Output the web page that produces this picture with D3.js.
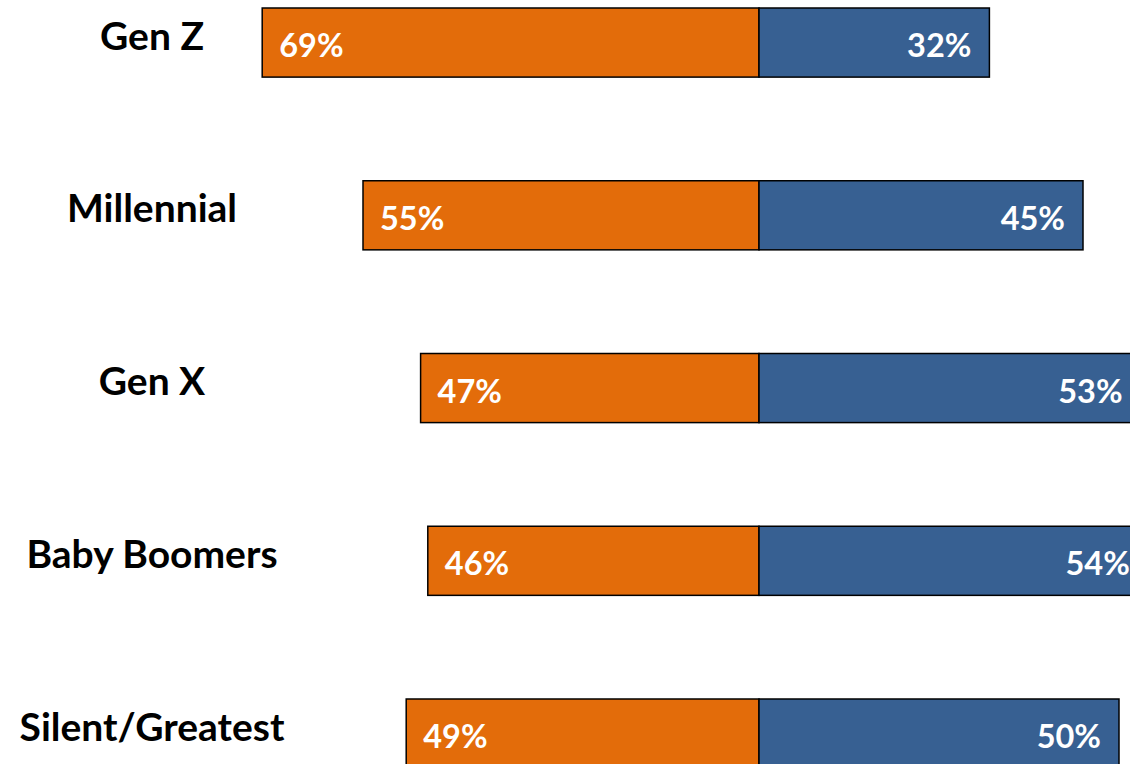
<!DOCTYPE html>
<html><head><meta charset="utf-8">
<script src="https://cdn.jsdelivr.net/npm/d3@7"></script>
<style>html,body{margin:0;padding:0;background:#fff;overflow:hidden}</style>
</head><body>
<svg id="chart" width="1130" height="764"></svg>
<script>
const categories = ["Gen Z", "Millennial", "Gen X", "Baby Boomers", "Silent/Greatest"];
const leftValues = [69, 55, 47, 46, 49];
const rightValues = [32, 45, 53, 54, 50];

const svg = d3.select("#chart");
const center = 759;
const len = d3.scaleLinear().domain([0, 100]).range([0, 720]);
const y = d3.scaleBand().domain(categories).range([8, 768.1]).paddingInner(0.6).paddingOuter(0);
const font = "Lato, 'Open Sans', sans-serif";

const rows = categories.map((c, i) => ({c, l: leftValues[i], r: rightValues[i]}));

svg.selectAll("rect.left").data(rows).join("rect")
  .attr("x", d => center - len(d.l)).attr("y", d => y(d.c))
  .attr("width", d => len(d.l)).attr("height", y.bandwidth())
  .attr("fill", "#E36C0A").attr("stroke", "#000").attr("stroke-width", 1.5);
svg.selectAll("rect.right").data(rows).join("rect")
  .attr("x", center).attr("y", d => y(d.c))
  .attr("width", d => len(d.r)).attr("height", y.bandwidth())
  .attr("fill", "#376092").attr("stroke", "#000").attr("stroke-width", 1.5);

svg.selectAll("text.cat").data(rows).join("text")
  .attr("x", 152).attr("y", d => y(d.c) + y.bandwidth()/2 - 8)
  .attr("text-anchor", "middle").attr("dominant-baseline", "central")
  .style("font-family", font).style("font-weight", "bold").style("font-size", "39px")
  .attr("fill", "#000").text(d => d.c);

svg.selectAll("text.lv").data(rows).join("text")
  .attr("x", d => center - len(d.l) + 17).attr("y", d => y(d.c) + y.bandwidth()/2 + 2)
  .attr("dominant-baseline", "central")
  .style("font-family", font).style("font-weight", "bold").style("font-size", "32.5px")
  .attr("fill", "#fff").text(d => d.l + "%");

svg.selectAll("text.rv").data(rows).join("text")
  .attr("x", d => center + len(d.r) - 18).attr("y", d => y(d.c) + y.bandwidth()/2 + 2)
  .attr("text-anchor", "end").attr("dominant-baseline", "central")
  .style("font-family", font).style("font-weight", "bold").style("font-size", "32.5px")
  .attr("fill", "#fff").text(d => d.r + "%");
</script>
</body></html>
